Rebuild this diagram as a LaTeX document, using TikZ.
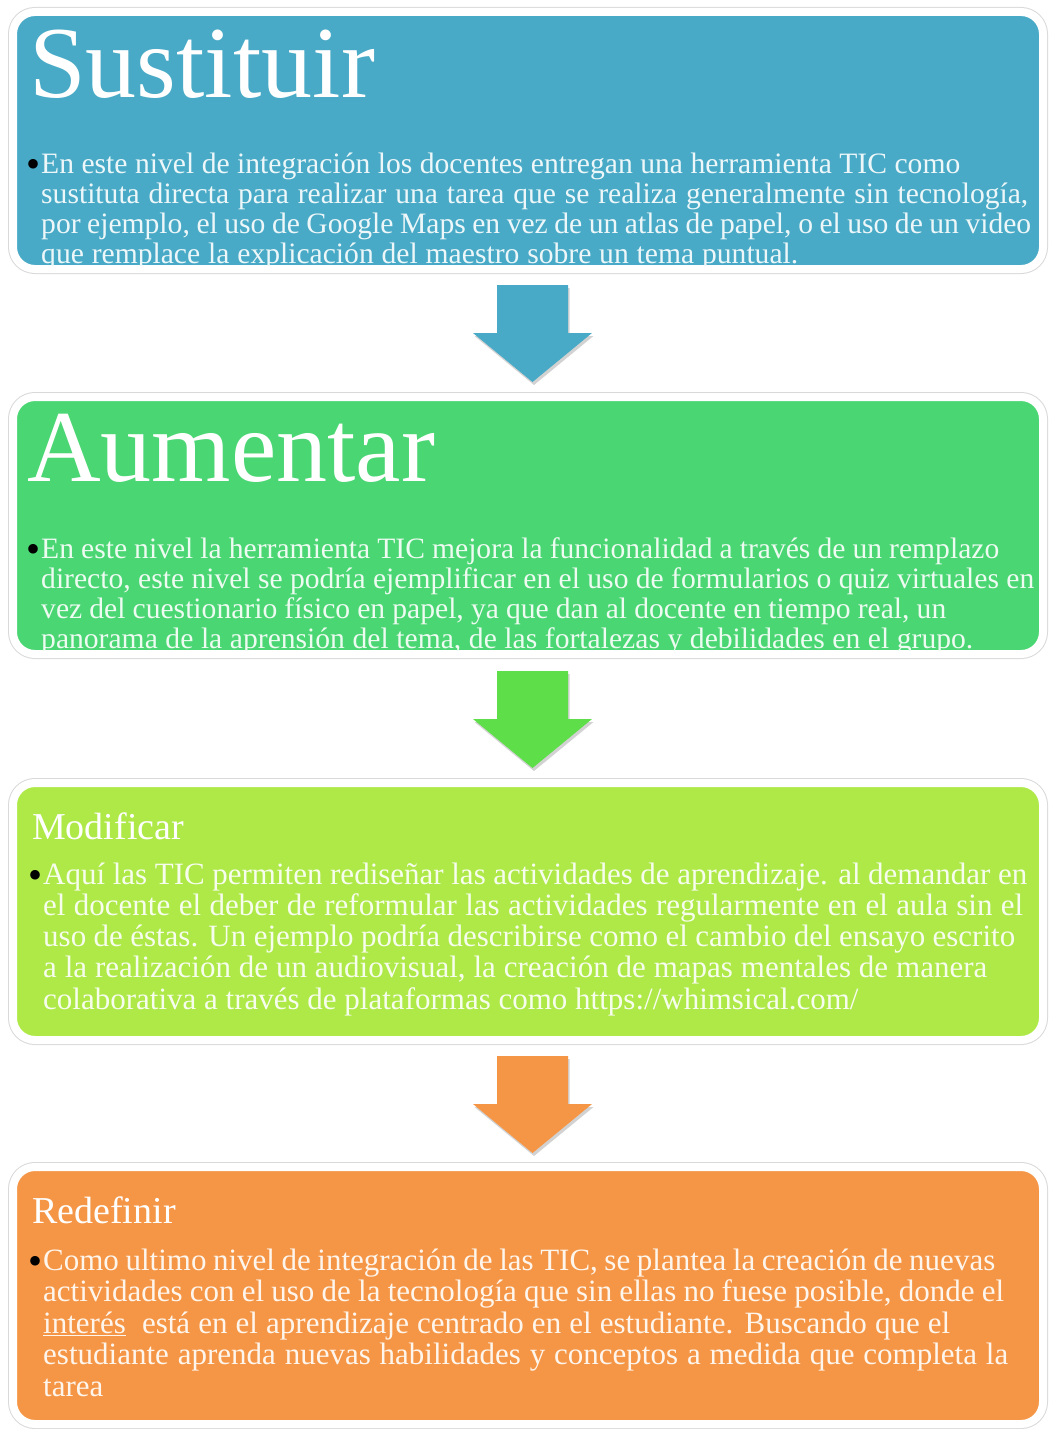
\documentclass[tikz,border=0pt]{standalone}
\usepackage{fontspec}
\setmainfont{Liberation Serif}
\usetikzlibrary{shadows,calc}
\definecolor{cA}{HTML}{48AAC6}
\definecolor{cB}{HTML}{4AD673}
\definecolor{cC}{HTML}{AEE948}
\definecolor{cD}{HTML}{F59646}
\definecolor{cBarrow}{HTML}{5EDE48}
\tikzset{
  panel/.style={draw=white, line width=8pt, rounded corners=22pt, fill=#1,
    minimum width=1030pt, minimum height=257pt, anchor=north west, inner sep=0pt, outer sep=0pt,
    drop shadow={shadow xshift=1.5pt, shadow yshift=-3.5pt, opacity=0.6, fill=black!40},
    preaction={draw=black!15, line width=10pt}},
  bigtitle/.style={anchor=base west, inner sep=0pt, text=white, font=\fontsize{102}{102}\selectfont},
  smalltitle/.style={anchor=base west, inner sep=0pt, text=white, font=\fontsize{38}{38}\selectfont},
  bodytext/.style={anchor=base west, inner sep=0pt, align=left, text=white!90!#1},
  blockarrow/.style={fill=#1, drop shadow={shadow xshift=1.5pt, shadow yshift=-3pt, opacity=0.35, fill=black!50}},
}
\newcommand{\blt}{\llap{\raisebox{-4.5pt}{\textcolor{black}{\fontsize{40}{40}\selectfont •}}\hspace{0.5pt}}}
\newcommand{\fitline}[2]{\makebox[#1pt][s]{#2}}
\begin{document}
\begin{tikzpicture}[x=1pt,y=-1pt]
\useasboundingbox[fill=white] (0,0) rectangle (1051,1429);

% panels
\node[panel=cA] (b1) at (13,12) {};
\node[panel=cB] (b2) at (13,397) {};
\node[panel=cC] (b3) at (13,783) {};
\node[panel=cD] (b4) at (13,1167) {};

% arrows
\coordinate (a1) at (532.5,285);
\coordinate (a2) at (532.5,671);
\coordinate (a3) at (532.5,1056);
\foreach \c/\col in {a1/cA,a2/cBarrow,a3/cD}{
  \fill[blockarrow=\col] ($(\c)+(-35.5,0)$) -- ($(\c)+(35.5,0)$) -- ($(\c)+(35.5,48)$) -- ($(\c)+(59.5,48)$)
     -- ($(\c)+(0,97)$) -- ($(\c)+(-59.5,48)$) -- ($(\c)+(-35.5,48)$) -- cycle;
}

% panel 1
\begin{scope}
\clip[rounded corners=18pt] ($(b1.north west)+(4,4)$) rectangle ($(b1.south east)+(-4,-4)$);
\node[bigtitle] (t1) at (29,97) {Sustituir};
\node[bodytext=cA, font=\fontsize{29.6}{30}\selectfont] (p1) at (41,263) {\blt\fitline{919}{En este nivel de integración los docentes entregan una herramienta TIC como}\\
\fitline{987}{sustituta directa para realizar una tarea que se realiza generalmente sin tecnología,}\\
\fitline{990}{por ejemplo, el uso de Google Maps en vez de un atlas de papel, o el uso de un video}\\
\fitline{757}{que remplace la explicación del maestro sobre un tema puntual.}};
\end{scope}

% panel 2
\begin{scope}
\clip[rounded corners=18pt] ($(b2.north west)+(4,4)$) rectangle ($(b2.south east)+(-4,-4)$);
\node[bigtitle] (t2) at (27,481) {Aumentar};
\node[bodytext=cB, font=\fontsize{29.6}{30}\selectfont] (p2) at (41,648) {\blt\fitline{958}{En este nivel la herramienta TIC mejora la funcionalidad a través de un remplazo}\\
\fitline{993}{directo, este nivel se podría ejemplificar en el uso de formularios o quiz virtuales en}\\
\fitline{905}{vez del cuestionario físico en papel, ya que dan al docente en tiempo real, un}\\
\fitline{932}{panorama de la aprensión del tema, de las fortalezas y debilidades en el grupo.}};
\end{scope}

% panel 3
\begin{scope}
\clip[rounded corners=18pt] ($(b3.north west)+(4,4)$) rectangle ($(b3.south east)+(-4,-4)$);
\node[smalltitle] (t3) at (32,839) {Modificar};
\node[bodytext=cC, font=\fontsize{31}{31.2}\selectfont] (p3) at (43,1009) {\blt\fitline{984}{Aquí las TIC permiten rediseñar las actividades de aprendizaje. al demandar en}\\
\fitline{980}{el docente el deber de reformular las actividades regularmente en el aula sin el}\\
\fitline{972}{uso de éstas. Un ejemplo podría describirse como el cambio del ensayo escrito}\\
\fitline{944}{a la realización de un audiovisual, la creación de mapas mentales de manera}\\
colaborativa a través de plataformas como https://whimsical.com/};
\end{scope}

% panel 4
\begin{scope}
\clip[rounded corners=18pt] ($(b4.north west)+(4,4)$) rectangle ($(b4.south east)+(-4,-4)$);
\node[smalltitle] (t4) at (32,1223) {Redefinir};
\node[bodytext=cD, font=\fontsize{31}{31.5}\selectfont] (p4) at (43,1396) {\blt\fitline{952}{Como ultimo nivel de integración de las TIC, se plantea la creación de nuevas}\\
\fitline{961}{actividades con el uso de la tecnología que sin ellas no fuese posible, donde el}\\
\fitline{907}{\underline{interés}\ \ está en el aprendizaje centrado en el estudiante. Buscando que el}\\
\fitline{965}{estudiante aprenda nuevas habilidades y conceptos a medida que completa la}\\
tarea};
\end{scope}
\end{tikzpicture}
\end{document}
